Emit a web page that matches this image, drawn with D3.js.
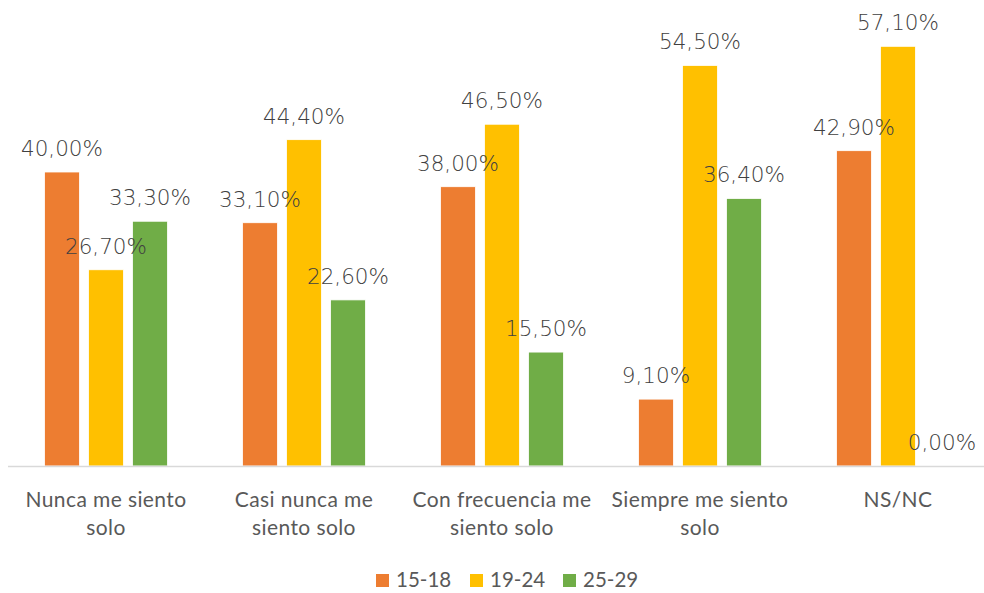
<!DOCTYPE html>
<html>
<head>
<meta charset="utf-8">
<script src="https://cdn.jsdelivr.net/npm/d3@7"></script>
<style>
  html, body { margin: 0; padding: 0; background: #fff; }
  svg { display: block; }
</style>
</head>
<body>
<svg id="chart" width="984" height="593"></svg>
<script>
// Categories (x axis) and their wrapped tick labels
const categories = ["Nunca me siento solo", "Casi nunca me siento solo", "Con frecuencia me siento solo", "Siempre me siento solo", "NS/NC"];
const tickLabels = [
  ["Nunca me siento", "solo"],
  ["Casi nunca me", "siento solo"],
  ["Con frecuencia me", "siento solo"],
  ["Siempre me siento", "solo"],
  ["NS/NC"]
];

// Age-group series, in percent
const seriesNames = ["15-18", "19-24", "25-29"];
const values1518 = [40.0, 33.1, 38.0, 9.1, 42.9];
const values1924 = [26.7, 44.4, 46.5, 54.5, 57.1];
const values2529 = [33.3, 22.6, 15.5, 36.4, 0.0];
const seriesColors = ["#ED7D31", "#FFC000", "#70AD47"];

const seriesValues = [values1518, values1924, values2529];
const rows = [];
categories.forEach((c, i) => {
  seriesNames.forEach((s, j) => rows.push({ category: c, series: s, value: seriesValues[j][i], color: seriesColors[j] }));
});

const svg = d3.select("#chart");

const x = d3.scaleBand().domain(categories).range([7, 997]).paddingInner(0).paddingOuter(0);
const xInner = d3.scaleBand().domain(seriesNames)
  .range([37.5, x.bandwidth() - 37.5]).paddingInner(9 / 44).paddingOuter(0);
const y = d3.scaleLinear().domain([0, 60]).range([466, 25]);

const fmt = v => d3.format(".2f")(v).replace(".", ",") + "%";

// Bars
svg.append("g").selectAll("rect").data(rows).join("rect")
  .attr("x", d => x(d.category) + xInner(d.series))
  .attr("y", d => y(d.value))
  .attr("width", xInner.bandwidth())
  .attr("height", d => y(0) - y(d.value))
  .attr("fill", d => d.color)
  .attr("stroke", "#fff")
  .attr("stroke-width", 0.8);

// Category axis line
svg.append("line")
  .attr("x1", 8).attr("x2", 984)
  .attr("y1", y(0) + 0.5).attr("y2", y(0) + 0.5)
  .attr("stroke", "#D9D9D9").attr("stroke-width", 1.5);

// Data labels
svg.append("g").selectAll("text").data(rows).join("text")
  .attr("x", d => x(d.category) + xInner(d.series) + xInner.bandwidth() / 2)
  .attr("y", d => y(d.value) - 16)
  .attr("text-anchor", "middle")
  .attr("font-family", "'DejaVu Sans', sans-serif")
  .attr("font-weight", 200)
  .attr("font-size", "21.5px")
  .attr("fill", "#404040")
  .text(d => fmt(d.value));

// Category tick labels
const ticks = svg.append("g").selectAll("text").data(categories).join("text")
  .attr("x", d => x(d) + x.bandwidth() / 2)
  .attr("y", 507)
  .attr("text-anchor", "middle")
  .attr("font-family", "Lato, 'Open Sans', sans-serif")
  .attr("font-size", "21px")
  .attr("letter-spacing", "0.4px")
  .attr("fill", "#595959");
ticks.each(function (d, i) {
  d3.select(this).selectAll("tspan").data(tickLabels[i]).join("tspan")
    .attr("x", x(d) + x.bandwidth() / 2)
    .attr("dy", (t, k) => k === 0 ? 0 : 28)
    .text(t => t);
});

// Legend
const legendX = [376, 470, 563];
const legend = svg.append("g").selectAll("g").data(seriesNames).join("g")
  .attr("transform", (d, i) => `translate(${legendX[i]},574)`);
legend.append("rect").attr("width", 13).attr("height", 13)
  .attr("fill", (d, i) => seriesColors[i]);
legend.append("text").attr("x", 20).attr("y", 13)
  .attr("font-family", "Lato, 'Open Sans', sans-serif")
  .attr("font-size", "20.5px").attr("fill", "#595959")
  .text(d => d);
</script>
</body>
</html>
